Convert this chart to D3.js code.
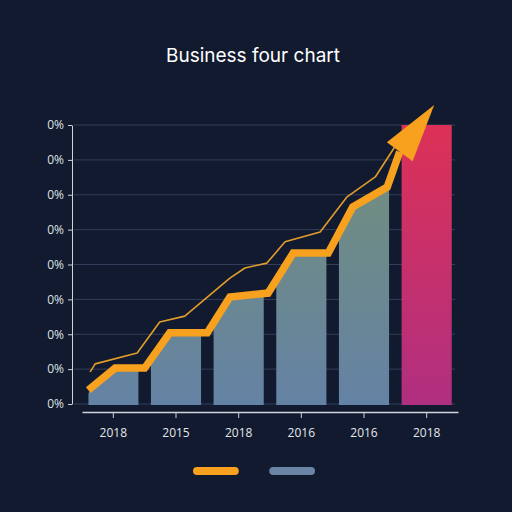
<!DOCTYPE html>
<html>
<head>
<meta charset="utf-8">
<script src="https://cdn.jsdelivr.net/npm/d3@7"></script>
<style>
  html, body { margin: 0; padding: 0; background: #111a2e; }
  svg { display: block; }
</style>
</head>
<body>
<div id="chart"></div>
<script>
// Chart data
var years = ['2018', '2015', '2018', '2016', '2016', '2018'];
var barValues = [1.0, 2.0, 3.15, 4.3, 6.2, 8.0];
var yTickValues = [0, 1, 2, 3, 4, 5, 6, 7, 8];
var yTickLabels = ['0%', '0%', '0%', '0%', '0%', '0%', '0%', '0%', '0%'];

// thick trend line, [position in category units, value]
var trendLine = [
    [0.10, 0.40], [0.53, 1.03], [1.00, 1.03], [1.40, 2.04], [2.00, 2.04],
    [2.36, 3.07], [2.97, 3.18], [3.37, 4.33], [3.93, 4.33], [4.32, 5.65],
    [4.87, 6.22], [5.07, 7.23]
];
var arrowTip = [5.62, 8.57];

// thin line above it
var thinLine = [
    [0.13, 0.92], [0.21, 1.15], [0.88, 1.46], [1.24, 2.35], [1.64, 2.52],
    [2.36, 3.61], [2.60, 3.90], [2.95, 4.04], [3.24, 4.65], [3.80, 4.93],
    [4.23, 5.94], [4.68, 6.51], [4.99, 7.37]
];

var legendKeys = ['trend', 'bars'];

var width = 512, height = 512;

var svg = d3.select('#chart').append('svg')
    .attr('width', width)
    .attr('height', height);

svg.append('rect')
    .attr('width', width).attr('height', height)
    .attr('fill', '#111a2e');

var defs = svg.append('defs');

var grayGrad = defs.append('linearGradient')
    .attr('id', 'grayGrad')
    .attr('gradientUnits', 'userSpaceOnUse')
    .attr('x1', 0).attr('y1', 180).attr('x2', 0).attr('y2', 405);
grayGrad.append('stop').attr('offset', '0%').attr('stop-color', '#718d80');
grayGrad.append('stop').attr('offset', '100%').attr('stop-color', '#6482a4');

var pinkGrad = defs.append('linearGradient')
    .attr('id', 'pinkGrad')
    .attr('x1', 0).attr('y1', 0).attr('x2', 0).attr('y2', 1);
pinkGrad.append('stop').attr('offset', '0%').attr('stop-color', '#dc3157');
pinkGrad.append('stop').attr('offset', '100%').attr('stop-color', '#b02f80');

// Scales
var x = d3.scaleBand()
    .domain(d3.range(years.length))
    .range([82, 458])
    .paddingInner(0.2)
    .paddingOuter(0.1);

var xu = d3.scaleLinear()
    .domain([0, years.length])
    .range([82, 458]);

var y = d3.scaleLinear()
    .domain([0, 8])
    .range([404, 125]);

// Title
svg.append('text')
    .attr('x', 253)
    .attr('y', 62)
    .attr('text-anchor', 'middle')
    .style('font', 'normal 19px Inter')
    .attr('fill', '#ffffff')
    .text('Business four chart');

// Grid lines
svg.append('g')
    .selectAll('line')
    .data(yTickValues)
    .enter().append('line')
    .attr('x1', 74).attr('x2', 455)
    .attr('y1', function (d) { return y(d); })
    .attr('y2', function (d) { return y(d); })
    .attr('stroke', '#333e5a')
    .attr('stroke-width', 1);

// Y axis
var yAxis = svg.append('g')
    .attr('transform', 'translate(72,0)')
    .call(d3.axisLeft(y)
        .tickValues(yTickValues)
        .tickSize(4)
        .tickSizeOuter(0)
        .tickFormat(function (d, i) { return yTickLabels[i]; }))
    .style('font', 'normal 12px "Open Sans"');
yAxis.select('.domain').attr('stroke', '#cfd3dc');
yAxis.selectAll('.tick line').attr('stroke', '#cfd3dc');
yAxis.selectAll('.tick text').attr('fill', '#dfe2e8').attr('x', -8);

// Clip for the gray bars, under the trend line
var under = d3.area()
    .x(function (d) { return xu(d[0]); })
    .y0(y(0) + 2)
    .y1(function (d) { return y(d[1]) + 3; });

defs.append('clipPath')
    .attr('id', 'underLine')
    .append('path')
    .attr('d', under(trendLine));

// Bars
svg.append('g')
    .attr('clip-path', 'url(#underLine)')
    .selectAll('rect')
    .data(barValues.slice(0, 5))
    .enter().append('rect')
    .attr('x', function (d, i) { return x(i); })
    .attr('width', x.bandwidth())
    .attr('y', function (d) { return y(d); })
    .attr('height', function (d) { return y(0) - y(d) + 1; })
    .attr('fill', 'url(#grayGrad)');

svg.append('rect')
    .attr('x', x(5))
    .attr('width', x.bandwidth())
    .attr('y', y(barValues[5]))
    .attr('height', y(0) - y(barValues[5]) + 1)
    .attr('fill', 'url(#pinkGrad)');

// Lines
var line = d3.line()
    .x(function (d) { return xu(d[0]); })
    .y(function (d) { return y(d[1]); });

svg.append('path')
    .datum(thinLine)
    .attr('d', line)
    .attr('fill', 'none')
    .attr('stroke', '#e29d2c')
    .attr('stroke-width', 1.6)
    .attr('stroke-linejoin', 'round');

svg.append('path')
    .datum(trendLine)
    .attr('d', line)
    .attr('fill', 'none')
    .attr('stroke', '#f7a11e')
    .attr('stroke-width', 7.5)
    .attr('stroke-linejoin', 'miter');

// Arrow head from the end of the trend line to the tip
var base = trendLine[trendLine.length - 1];
var bx = xu(base[0]), by = y(base[1]);
var tx = xu(arrowTip[0]), ty = y(arrowTip[1]);
var len = Math.sqrt((tx - bx) * (tx - bx) + (ty - by) * (ty - by));
var px = -(ty - by) / len * 16, py = (tx - bx) / len * 16;
svg.append('path')
    .attr('d', 'M' + tx + ',' + ty + 'L' + (bx + px) + ',' + (by + py) +
        'L' + (bx - px) + ',' + (by - py) + 'Z')
    .attr('fill', '#f7a11e');

// X axis
var xAxis = svg.append('g')
    .attr('transform', 'translate(0,412)')
    .call(d3.axisBottom(x)
        .tickSize(6)
        .tickSizeOuter(0)
        .tickFormat(function (d) { return years[d]; }))
    .style('font', 'normal 12px "Open Sans"');
xAxis.select('.domain').attr('stroke', '#cfd3dc').attr('stroke-width', 1.5);
xAxis.selectAll('.tick line').attr('stroke', '#cfd3dc');
xAxis.selectAll('.tick text').attr('fill', '#e3e6ec').attr('y', 16);

// Legend
var legend = d3.scaleBand()
    .domain(legendKeys)
    .range([193, 315])
    .paddingInner(0.4);
var legendColor = d3.scaleOrdinal()
    .domain(legendKeys)
    .range(['#f7a11e', '#6a84a6']);

svg.append('g')
    .selectAll('rect')
    .data(legendKeys)
    .enter().append('rect')
    .attr('x', function (d) { return legend(d); })
    .attr('y', 467)
    .attr('width', legend.bandwidth())
    .attr('height', 8)
    .attr('rx', 4)
    .attr('fill', function (d) { return legendColor(d); });
</script>
</body>
</html>
